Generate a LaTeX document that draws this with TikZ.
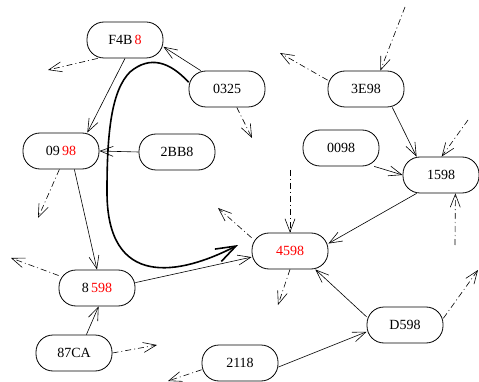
\documentclass[tikz,border=0pt]{standalone}
\usepackage{fontspec}
\setmainfont{Liberation Serif}
\usetikzlibrary{arrows.meta}
\begin{document}
\begin{tikzpicture}[x=1pt,y=-1pt,line width=0.6pt,
  peer/.style={draw,line width=0.8pt,rounded corners=17pt,minimum width=76pt,minimum height=36pt,font=\fontsize{14}{16}\selectfont},
  hop/.style={-{Straight Barb[length=13pt,width=10pt]}},
  leak/.style={hop,dash pattern=on 6pt off 3pt on 1pt off 3pt}]
\useasboundingbox (0,0) rectangle (479,382);
\node[peer] (f4b8) at (125,40) {F4B\,\textcolor{red}{8}};
\node[peer] (n0325) at (227,89) {0325};
\node[peer] (n0998) at (61,151) {09\,\textcolor{red}{98}};
\node[peer] (n2bb8) at (177,152) {2BB8};
\node[peer] (n3e98) at (366,89) {3E98};
\node[peer] (n0098) at (341,148) {0098};
\node[peer] (n1598) at (441,175) {1598};
\node[peer] (n4598) at (290,251) {\textcolor{red}{4598}};
\node[peer] (n8598) at (97,288) {8\,\textcolor{red}{598}};
\node[peer] (n87ca) at (74,353) {87CA};
\node[peer] (n2118) at (240,363) {2118};
\node[peer] (nd598) at (405,325) {D598};
\coordinate (o1) at (48,70);
\coordinate (o2) at (252,138);
\coordinate (o3) at (38,218);
\coordinate (o4) at (11,258);
\coordinate (o5) at (157,345);
\coordinate (o6) at (168,381);
\coordinate (o7) at (478,270);
\coordinate (o8) at (218,208);
\coordinate (o9) at (278,305);
\coordinate (o10) at (280,53);
\coordinate (i1) at (290,170);
\coordinate (i2) at (405,7);
\coordinate (i3) at (468,120);
\coordinate (i4) at (455,245);
\coordinate (hit) at (238,245);
\draw[hop] (n0325.145) -- (f4b8.-10);
\draw[hop] (f4b8.south) -- (n0998.35);
\draw[hop] (n2bb8.west) -- (n0998.east);
\draw[hop] (n0998.-54) -- (n8598.north);
\draw[hop] (n8598.8) -- (n4598.-171);
\draw[hop] (n87ca.56) -- (n8598.-85);
\draw[hop] (n2118.-6) -- (nd598.190);
\draw[hop] (nd598.168) -- (n4598.-36);
\draw[hop] (n1598.217) -- (n4598.11);
\draw[hop] (n3e98.-35) -- (n1598.143);
\draw[hop] (n0098.-29) -- (n1598.west);
\draw[leak] (f4b8.-146) -- (o1);
\draw[leak] (n0325.-62) -- (o2);
\draw[leak] (n0998.-95) -- (o3);
\draw[leak] (n8598.162) -- (o4);
\draw[leak] (n87ca.east) -- (o5);
\draw[leak] (n2118.190) -- (o6);
\draw[leak] (nd598.10) -- (o7);
\draw[leak] (n4598.161) -- (o8);
\draw[leak] (n4598.south) -- (o9);
\draw[leak] (n3e98.167) -- (o10);
\draw[leak] (i1) -- (n4598.north);
\draw[leak] (i2) -- (n3e98.52);
\draw[leak] (i3) -- (n1598.88);
\draw[leak] (i4) -- (n1598.-52);
\draw[line width=1.6pt,-{Straight Barb[length=20pt,width=14pt]}] (n0325.170) .. controls (170,62) and (150,55) .. (130,72) .. controls (112,90) and (107,130) .. (107,190) .. controls (106,290) and (180,275) .. (hit);
\end{tikzpicture}
\end{document}
